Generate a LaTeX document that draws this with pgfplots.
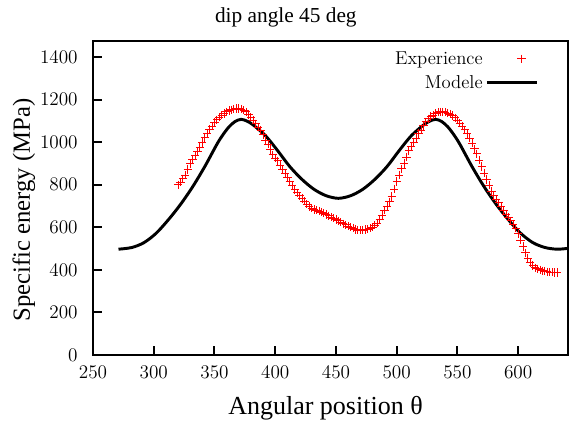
\documentclass[border=0pt]{standalone}
\usepackage{fontspec}
\usepackage{pgfplots}
\pgfplotsset{compat=1.18}
\newfontfamily\lserif{Liberation Serif}
\pgfplotsset{
  expleg/.style={legend image code/.code={\draw[mark repeat=2,mark phase=2,##1] plot coordinates {(0pt,0pt) (26pt,0pt) (38pt,0pt)};}},
  modleg/.style={legend image code/.code={\draw[##1] (0pt,0pt) -- (38pt,0pt);}},
}
\begin{document}
\begin{tikzpicture}
\useasboundingbox (-69.75pt,-52.5pt) rectangle (363.75pt,266.25pt);
\begin{axis}[
  at={(0,0)}, anchor=south west,
  scale only axis, width=356.25pt, height=235.5pt,
  xmin=250, xmax=641, ymin=0, ymax=1475,
  xtick={250,300,...,600}, ytick={0,200,...,1400},
  xtick pos=bottom, ytick pos=left, tick align=inside,
  major tick length=6.5pt,
  axis line style={line width=1.5pt},
  every tick/.style={line width=1.5pt, black},
  /pgf/number format/1000 sep={},
  scaled ticks=false,
  ticklabel style={font=\fontsize{13.5}{15}\selectfont},
  yticklabel style={xshift=-8pt},
  xticklabel style={yshift=-5pt},
  title={dip angle 45 deg},
  title style={font=\lserif\fontsize{16}{18}\selectfont, at={(axis description cs:0.406,1.0605)}, anchor=base, inner sep=0pt, yshift=-6pt},
  xlabel={Angular position θ},
  xlabel style={font=\lserif\fontsize{19.5}{21}\selectfont, at={(axis description cs:0.4895,-0.191)}, anchor=base, inner sep=0pt},
  ylabel={Specific energy (MPa)},
  ylabel style={font=\lserif\fontsize{18.5}{20}\selectfont, at={(axis description cs:-0.133,0.462)}, anchor=base, inner sep=0pt},
  legend style={at={(axis description cs:0.945,0.985)}, anchor=north east, draw=none, fill=none,
    font=\fontsize{14}{16}\selectfont, row sep=3pt, inner sep=2pt},
  legend cell align=right, legend plot pos=right,
]
\addplot[only marks, color=red, mark=+, mark size=3.1pt, mark options={draw=red, line width=0.65pt}, expleg]
coordinates {
(320,800) (322,812) (324,828) (326,845) (328,872) (330,900) (332,920) (334,937) (336,955) (338,975)
(340,998) (342,1020) (344,1042) (346,1060) (348,1075) (350,1092) (352,1105) (354,1117) (356,1126) (358,1135)
(360,1142) (362,1148) (364,1152) (366,1155) (368,1158) (370,1158) (372,1155) (374,1150) (376,1142) (378,1130)
(380,1117) (382,1103) (384,1086) (386,1070) (388,1055) (390,1035) (392,1010) (394,990) (396,965) (398,940)
(400,925) (402,912) (404,890) (406,870) (408,852) (410,835) (412,815) (414,795) (416,778) (418,762)
(420,748) (422,735) (424,722) (426,708) (428,697) (430,690) (432,684) (434,680) (436,676) (438,672)
(440,666) (442,660) (444,654) (446,648) (448,642) (450,636) (452,630) (454,624) (456,617) (458,611)
(460,606) (462,600) (464,595) (466,590) (468,587) (470,586) (472,587) (474,589) (476,591) (478,595)
(480,600) (482,610) (484,620) (486,638) (488,655) (490,680) (492,700) (494,720) (496,745) (498,780)
(500,815) (502,845) (504,875) (506,900) (508,930) (510,960) (512,980) (514,1000) (516,1018) (518,1040)
(520,1057) (522,1078) (524,1095) (526,1110) (528,1120) (530,1126) (532,1135) (534,1140) (536,1142) (538,1142)
(540,1140) (542,1137) (544,1132) (546,1125) (548,1115) (550,1104) (552,1090) (554,1075) (556,1058) (558,1040)
(560,1018) (562,995) (564,968) (566,945) (568,915) (570,885) (572,855) (574,825) (576,798) (578,770)
(580,748) (582,732) (584,715) (586,700) (588,680) (590,662) (592,648) (594,630) (596,612) (598,595)
(600,570) (602,540) (604,510) (606,480) (608,455) (610,435) (612,420) (614,410) (616,405) (618,400)
(620,396) (622,393) (624,391) (626,390) (628,389) (630,388) (632,387)
};
\addlegendentry{Experience}
\addplot[black, line width=2.2pt, smooth, no marks, modleg]
coordinates {
(271,497) (282,505) (292,528) (302,572) (312,635) (322,707) (332,790) (342,885) (352,990) (357,1035)
(362,1072) (367,1097) (372,1107) (377,1098) (382,1080) (392,1030) (402,960) (412,885) (422,825) (432,778)
(442,748) (452,736) (462,748) (472,778) (482,825) (492,885) (502,960) (512,1030) (522,1080) (527,1098)
(532,1107) (537,1097) (542,1072) (547,1035) (552,990) (562,885) (572,790) (582,707) (592,635) (602,572)
(612,528) (622,505) (632,497) (641,501)
};
\addlegendentry{Modele}
\end{axis}
\end{tikzpicture}
\end{document}
